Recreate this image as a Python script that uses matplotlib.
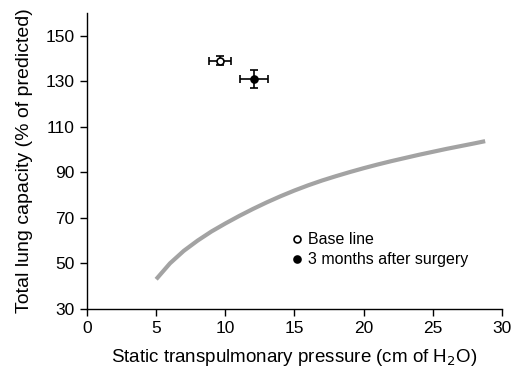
import numpy as np
import matplotlib
matplotlib.use('Agg')
import matplotlib.pyplot as plt
from matplotlib.lines import Line2D

# pressure-volume curve
curve_x = [5, 6, 7, 8, 9, 10, 11, 12, 13, 14, 15, 16, 17, 18, 19, 20,
           21, 22, 23, 24, 25, 26, 27, 28, 28.8]
curve_y = [43, 50, 55.5, 60, 64, 67.5, 70.8, 73.9, 76.8, 79.5, 82, 84.3, 86.4, 88.3, 90.1, 91.8,
           93.4, 94.9, 96.3, 97.7, 99, 100.3, 101.5, 102.7, 103.7]

# patient points
labels = ['Base line', '3 months after surgery']
pts_x = [9.6, 12.1]
pts_y = [139, 131]
err_x = [0.8, 1.0]
err_y = [2, 4]
faces = ['white', 'black']

plt.rcParams['font.family'] = ['Liberation Sans', 'DejaVu Sans']

fig = plt.figure(figsize=(5.12, 3.73), dpi=100)
ax = fig.add_axes([0.170, 0.172, 0.810, 0.793])

ax.plot(curve_x, curve_y, color='#a3a3a3', lw=3.0, solid_capstyle='butt')

for lab, x, y, ex, ey, fc in zip(labels, pts_x, pts_y, err_x, err_y, faces):
    ax.errorbar(x, y, xerr=ex, yerr=ey, fmt='o', ms=5, mfc=fc, mec='black',
                mew=1.2, ecolor='black', elinewidth=1.2, capsize=3, capthick=1.2,
                label=lab, zorder=3)

ax.set_xlim(0, 30)
ax.set_ylim(30, 160)
ax.set_xticks(range(0, 31, 5))
ax.set_yticks(range(30, 151, 20))
for s in ['top', 'right']:
    ax.spines[s].set_visible(False)
for s in ['left', 'bottom']:
    ax.spines[s].set_linewidth(1.0)
ax.tick_params(direction='out', length=5, width=1.0, labelsize=12.5, pad=4)

ax.set_xlabel('Static transpulmonary pressure (cm of H$_2$O)', fontsize=13.5, labelpad=8)
ax.set_ylabel('Total lung capacity (% of predicted)', fontsize=14, labelpad=9)

# legend without error bars
handles = [Line2D([], [], ls='none', marker='o', ms=5, mfc=fc, mec='black', mew=1.2)
           for fc in faces]
ax.legend(handles, labels, loc='upper left', bbox_to_anchor=(0.48, 0.28),
          frameon=False, fontsize=11.5, handlelength=0.6, handletextpad=0.4,
          labelspacing=0.3, borderaxespad=0)

fig.savefig('out.png', dpi=100)
